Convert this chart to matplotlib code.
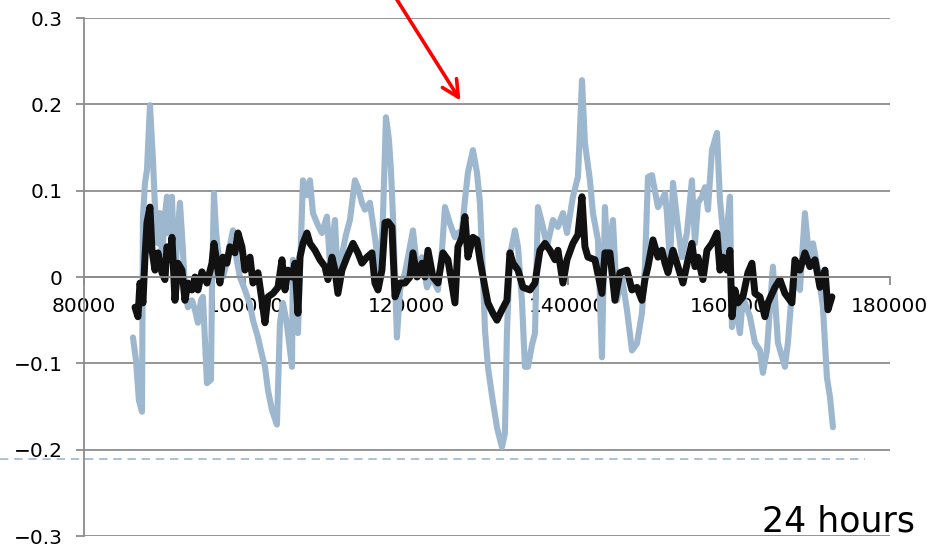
import matplotlib
matplotlib.use('Agg')
import matplotlib.pyplot as plt

# time (s) and values
blue_t = [86080, 86450, 86820, 87200, 87320, 87570, 87820, 88190, 88560, 88810,
          89180, 89430, 89680, 90050, 90300, 90420, 90670, 90920, 91290, 91540,
          91910, 92280, 92530, 92900, 93400, 93770, 94140, 94520, 94760, 95010,
          95260, 95760, 95880, 96130, 96380, 96620, 97240, 97740, 98110, 98490,
          98730, 99350, 99970, 100600, 100970, 101590, 102080, 102460, 102830, 103320,
          103940, 104320, 104690, 105060, 105310, 105810, 105930, 106300, 106550, 106920,
          107170, 107670, 108040, 108410, 109030, 109530, 110150, 110520, 111140, 111510,
          112130, 112510, 113000, 113620, 113990, 114490, 114860, 115480, 116100, 116720,
          117100, 117470, 117840, 118090, 118340, 118830, 119210, 119830, 120200, 120820,
          121440, 121940, 122560, 123180, 123920, 124420, 124790, 125410, 126030, 126400,
          126900, 127270, 127640, 128260, 128760, 129130, 129500, 129750, 130120, 130620,
          131240, 131860, 132230, 132480, 132850, 133470, 133850, 134340, 134710, 135090,
          135580, 135960, 136330, 136950, 137440, 138190, 138810, 139430, 139930, 140670,
          141290, 141540, 141790, 142160, 142780, 143150, 143770, 144270, 144640, 145010,
          145630, 146130, 146750, 147370, 147990, 148610, 149230, 149600, 149980, 150470,
          151220, 151710, 152090, 152330, 152710, 153080, 153700, 154190, 154810, 155430,
          155810, 156180, 156680, 157050, 157420, 157920, 158290, 158540, 158910, 159530,
          160150, 160400, 160770, 161390, 161760, 162630, 163250, 163870, 164240, 164740,
          165480, 166100, 166970, 167340, 167970, 168830, 169450, 170070, 170450, 171070,
          171690, 172180, 172560, 172930]
blue_v = [-0.070, -0.096, -0.143, -0.156, 0.070, 0.109, 0.124, 0.199, 0.136, 0.081,
          0.039, 0.074, 0.023, 0.072, 0.093, 0.051, 0.078, 0.093, -0.023, 0.043,
          0.086, 0.031, -0.015, -0.035, -0.027, -0.038, -0.053, -0.027, -0.023, -0.073,
          -0.123, -0.119, -0.015, 0.097, 0.054, 0.031, 0.000, 0.017, 0.037, 0.054,
          0.031, 0.000, -0.015, -0.032, -0.050, -0.070, -0.090, -0.104, -0.131, -0.154,
          -0.171, -0.053, -0.030, -0.048, -0.065, -0.104, 0.020, -0.027, -0.065, 0.043,
          0.112, 0.095, 0.112, 0.074, 0.060, 0.051, 0.070, 0.016, 0.066, -0.007,
          0.031, 0.049, 0.066, 0.112, 0.104, 0.086, 0.078, 0.086, 0.046, 0.000,
          0.070, 0.185, 0.159, 0.124, 0.070, -0.070, -0.015, 0.005, 0.023, 0.054,
          0.000, 0.023, -0.012, 0.000, -0.015, 0.031, 0.081, 0.062, 0.046, 0.051,
          0.054, 0.089, 0.121, 0.147, 0.121, 0.086, 0.005, -0.061, -0.104, -0.137,
          -0.174, -0.197, -0.181, -0.065, 0.025, 0.054, 0.035, -0.027, -0.104, -0.104,
          -0.079, -0.065, 0.081, 0.058, 0.035, 0.066, 0.058, 0.074, 0.051, 0.093,
          0.116, 0.170, 0.228, 0.155, 0.112, 0.074, 0.043, -0.093, 0.081, 0.020,
          0.066, -0.027, 0.000, -0.038, -0.085, -0.077, -0.042, 0.012, 0.116, 0.118,
          0.081, 0.089, 0.097, 0.074, 0.016, 0.109, 0.058, 0.023, 0.051, 0.112,
          0.039, 0.086, 0.093, 0.104, 0.078, 0.147, 0.159, 0.167, 0.089, 0.028,
          0.093, -0.058, -0.027, -0.065, -0.023, -0.046, -0.076, -0.085, -0.111, -0.085,
          0.012, -0.076, -0.104, -0.076, 0.000, -0.015, 0.074, 0.012, 0.039, 0.008,
          -0.035, -0.116, -0.139, -0.174]

black_t = [86330, 86700, 86950, 87320, 87570, 87820, 88190, 88440, 88810, 89180,
           89680, 90050, 90300, 90670, 90920, 91290, 91660, 92160, 92530, 92900,
           93400, 93770, 94140, 94640, 95260, 95880, 96130, 96500, 96870, 97240,
           97740, 98110, 98730, 99110, 99600, 99970, 100600, 100970, 101590, 102080,
           102460, 102830, 103450, 104070, 104570, 104940, 105310, 105810, 106180, 106550,
           106800, 107170, 107670, 108040, 108660, 109280, 109900, 110270, 110770, 111140,
           111510, 112010, 112630, 113380, 113990, 114490, 115110, 115730, 116100, 116480,
           116970, 117350, 117720, 118210, 118590, 119210, 119830, 120450, 120820, 121320,
           121940, 122310, 122680, 123300, 123920, 124540, 125160, 126030, 126400, 126900,
           127270, 127640, 128260, 128760, 129130, 129750, 130120, 130740, 131240, 131860,
           132480, 132850, 133230, 133850, 134470, 135340, 135960, 136580, 137200, 137820,
           138440, 138810, 139430, 139930, 140670, 141290, 141790, 142160, 142530, 143400,
           144270, 144640, 145260, 145880, 146500, 147370, 147990, 148610, 149230, 149600,
           149980, 150600, 151220, 151710, 152090, 152460, 153080, 153700, 154320, 154940,
           155430, 155810, 156180, 156800, 157300, 157920, 158540, 158910, 159280, 159780,
           160150, 160400, 160770, 161140, 161760, 162380, 162880, 163250, 163870, 164490,
           164860, 165730, 166350, 166970, 167840, 168210, 168830, 169450, 170070, 170700,
           171320, 171940, 172310, 172800]
black_v = [-0.035, -0.046, -0.007, -0.030, 0.023, 0.063, 0.081, 0.031, 0.008, 0.028,
           0.005, -0.003, 0.035, 0.020, 0.046, -0.027, 0.016, 0.008, -0.027, -0.007,
           -0.015, 0.000, -0.015, 0.006, -0.007, 0.016, 0.039, 0.016, -0.007, 0.023,
           0.016, 0.035, 0.028, 0.051, 0.035, 0.008, 0.023, -0.007, 0.005, -0.027,
           -0.053, -0.023, -0.019, -0.012, 0.020, -0.015, 0.008, 0.000, 0.016, -0.042,
           0.023, 0.039, 0.051, 0.039, 0.031, 0.020, 0.012, -0.003, 0.023, 0.008,
           -0.019, 0.008, 0.023, 0.039, 0.028, 0.016, 0.023, 0.028, -0.007, -0.015,
           0.008, 0.063, 0.064, 0.058, -0.023, -0.007, -0.007, 0.000, 0.028, 0.000,
           0.016, 0.000, 0.031, 0.000, -0.007, 0.028, 0.020, -0.030, 0.035, 0.046,
           0.070, 0.023, 0.046, 0.043, 0.020, -0.012, -0.030, -0.042, -0.050, -0.038,
           -0.027, 0.028, 0.016, 0.008, -0.012, -0.015, -0.007, 0.031, 0.039, 0.031,
           0.020, 0.031, -0.007, 0.020, 0.039, 0.049, 0.093, 0.035, 0.023, 0.020,
           -0.019, 0.028, 0.028, -0.027, 0.005, 0.008, -0.015, -0.012, -0.027, -0.003,
           0.012, 0.043, 0.023, 0.031, 0.016, 0.005, 0.031, 0.012, -0.007, 0.020,
           0.039, 0.012, 0.023, -0.003, 0.031, 0.039, 0.051, 0.008, 0.023, 0.008,
           0.031, -0.046, -0.015, -0.030, -0.023, 0.005, 0.016, -0.019, -0.023, -0.046,
           -0.030, -0.012, -0.003, -0.019, -0.030, 0.020, 0.008, 0.028, 0.012, 0.020,
           -0.012, 0.008, -0.038, -0.023]

x_ticks = [80000, 100000, 120000, 140000, 160000, 180000]
y_ticks = [-0.3, -0.2, -0.1, 0, 0.1, 0.2, 0.3]
y_labels = ['\u22120.3', '\u22120.2', '\u22120.1', '0', '0.1', '0.2', '0.3']

grey = '#8c8c8c'

fig = plt.figure(figsize=(9.35, 5.46), dpi=100)
ax = fig.add_axes([0.0898, 0.0183, 0.862, 0.9487])
ax.set_axisbelow(True)

ax.plot(blue_t, blue_v, color='#9db7cf', lw=4.4, solid_joinstyle='round', solid_capstyle='round')
ax.plot(black_t, black_v, color='#111111', lw=5.0, solid_joinstyle='round', solid_capstyle='round')

ax.set_xlim(80000, 180000)
ax.set_ylim(-0.3, 0.3)
ax.set_xticks(x_ticks)
ax.set_yticks(y_ticks)
ax.set_yticklabels(y_labels)

for s in ['top', 'right']:
    ax.spines[s].set_visible(False)
ax.spines['bottom'].set_position(('data', 0))
ax.spines['bottom'].set_color(grey)
ax.spines['left'].set_color(grey)
ax.spines['bottom'].set_linewidth(1.3)
ax.spines['left'].set_linewidth(1.3)
ax.yaxis.grid(True, color=grey, lw=1.3)
ax.tick_params(axis='both', colors=grey, labelcolor='black', labelsize=14.5,
               length=5.5, width=1.3, direction='out')
ax.tick_params(axis='y', pad=10)
ax.tick_params(axis='x', pad=9)

# dashed reference line, running out to the left edge of the figure
ax.axhline(-0.211, xmin=-0.104, xmax=0.969, color='#9db7cf', lw=1.2,
           linestyle=(0, (5, 3.5)), clip_on=False)

# red arrow
ax.annotate('', xy=(126900, 0.2016), xytext=(117900, 0.335),
            arrowprops=dict(arrowstyle='->', color='red', lw=2.6, mutation_scale=30),
            annotation_clip=False)

fig.text(0.979, 0.027, '24 hours', ha='right', va='baseline', fontsize=25)

fig.savefig('out.png', dpi=100)
